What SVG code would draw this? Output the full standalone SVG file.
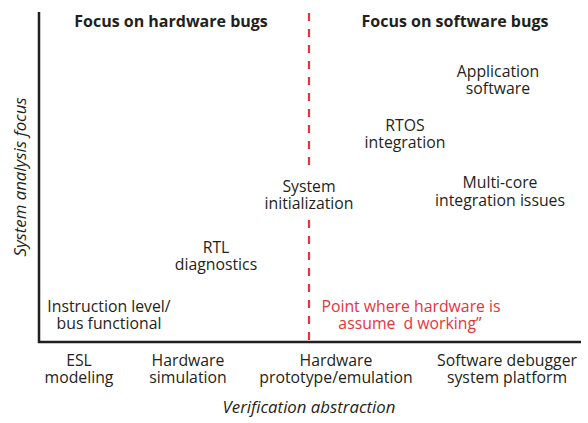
<svg xmlns="http://www.w3.org/2000/svg" width="588" height="423" viewBox="0 0 588 423">
  <style>
    text { font-family: "Open Sans", "Liberation Sans", sans-serif; font-size: 15.8px; fill: #231f20; text-anchor: middle; }
    .head { font-weight: bold; font-size: 16px; }
    .axis-title { font-style: italic; font-size: 16.8px; }
    .note { fill: #e5343d; }
    .axis { stroke: #231f20; stroke-width: 2.5; fill: none; }
    .divider { stroke: #e5343d; stroke-width: 2.2; stroke-dasharray: 8 8; fill: none; }
  </style>
  <rect width="588" height="423" fill="#ffffff"/>

  <g id="connectors">
    <path class="axis" d="M39,12 V342 H581"/>
    <!-- hardware/software boundary, interrupted around the "System initialization" label -->
    <path class="divider" d="M309,13 V168 M309,220 V340"/>
  </g>

  <g id="headings">
    <text class="head" x="171" y="27">Focus on hardware bugs</text>
    <text class="head" x="455" y="27">Focus on software bugs</text>
  </g>

  <g id="application-software">
    <text x="498" y="77">Application<tspan x="498" dy="16.5">software</tspan></text>
  </g>
  <g id="rtos-integration">
    <text x="405" y="131">RTOS<tspan x="405" dy="17">integration</tspan></text>
  </g>
  <g id="system-initialization">
    <text x="309" y="192">System<tspan x="309" dy="16.5">initialization</tspan></text>
  </g>
  <g id="multicore-integration">
    <text x="500" y="188">Multi-core<tspan x="500" dy="18">integration issues</tspan></text>
  </g>
  <g id="rtl-diagnostics">
    <text x="216" y="253">RTL<tspan x="216" dy="17">diagnostics</tspan></text>
  </g>
  <g id="instruction-level">
    <text x="109" y="312">Instruction level/<tspan x="109" dy="17">bus functional</tspan></text>
  </g>
  <g id="hardware-working-point">
    <text class="note" x="411" y="312">Point where hardware is<tspan x="410" dy="16.5" style="white-space:pre">assume  d working”</tspan></text>
  </g>

  <g id="x-categories">
    <text x="79" y="366">ESL<tspan x="79" dy="17">modeling</tspan></text>
    <text x="188" y="366">Hardware<tspan x="188" dy="17">simulation</tspan></text>
    <text x="336" y="366">Hardware<tspan x="336" dy="17">prototype/emulation</tspan></text>
    <text x="507" y="366">Software debugger<tspan x="507" dy="17">system platform</tspan></text>
  </g>

  <g id="axis-titles">
    <text class="axis-title" x="309" y="413">Verification abstraction</text>
    <text class="axis-title" transform="translate(26,177) rotate(-90)">System analysis focus</text>
  </g>
</svg>
